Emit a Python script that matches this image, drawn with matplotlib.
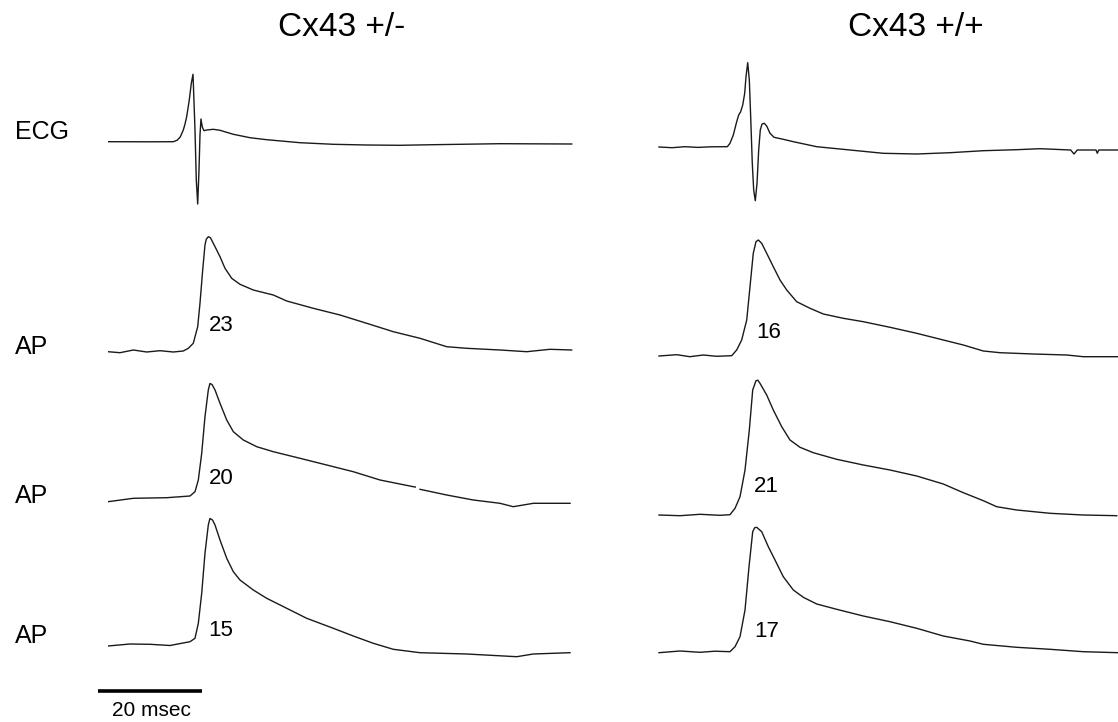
import numpy as np
import matplotlib
matplotlib.use("Agg")
import matplotlib.pyplot as plt

plt.rcParams['font.family'] = ['Liberation Sans', 'DejaVu Sans']

# ---------------- data (time in ms, amplitude in arbitrary units) ----------------
column_titles = ["Cx43 +/-", "Cx43 +/+"]
row_labels = ["ECG", "AP", "AP", "AP"]

# Cx43 +/- ECG
ecg_het_t = [0, 8.1, 12.56, 13.3, 13.85, 14.0, 14.48, 14.8, 15.13, 15.63, 16.02, 16.35, 16.73,
             16.98, 17.25, 17.5, 17.69, 17.88, 18.13, 18.46, 18.98, 20.25, 21.54, 24.1, 27.31,
             30.52, 36.92, 43.33, 49.75, 56.15, 62.56, 75.38, 89.17]
ecg_het_v = [0, -0.1, 0, 1.5, 4.4, 6, 11.7, 17.5, 25, 41.7, 58.4, 67.4, 11.7,
             -38.3, -62.3, -28.3, 6.7, 22.7, 14.7, 11, 11.7, 12.4, 11.4, 7.4, 4,
             2, -1, -2.6, -3.3, -3.6, -3, -2, -2.3]

# Cx43 +/+ ECG
ecg_wt_t = [0, 2.5, 5.0, 7.5, 10.0, 13.14, 13.65, 14.29, 14.94, 15.33, 15.71, 16.1, 16.48,
            16.73, 17.06, 17.37, 17.63, 17.94, 18.21, 18.52, 18.85, 19.17, 19.48, 19.81,
            20.25, 20.71, 21.35, 22.12, 23.9, 25.83, 30.33, 36.73, 43.13, 49.56, 55.96,
            62.37, 68.79, 73.27, 79.17, 79.81, 80.44, 84.04, 84.29, 84.56, 88.33]
ecg_wt_v = [0, -0.7, 0.3, -0.4, 0.2, 0.3, 3.7, 12, 25.3, 32, 35.3, 42, 53.7,
            70.3, 84.3, 67, 30.3, -16.3, -43, -53.7, -36.3, -3, 17, 23,
            23.7, 21, 13.7, 9.7, 7.7, 5.3, 0.3, -3, -6.3, -7, -5.7,
            -3.7, -2.7, -1.7, -3, -7, -3, -3, -6.3, -3, -3]

# Cx43 +/- action potentials
ap_het1_t = [0, 2.31, 4.87, 7.44, 10, 12.56, 14.48, 15.44, 16.4, 17.25, 17.69, 18.21, 18.65,
             18.9, 19.3, 19.7, 20.58, 21.54, 22.5, 23.79, 25.38, 27.94, 31.79, 34.37, 39.48,
             44.62, 49.75, 54.87, 60, 65.13, 68.98, 75.38, 80.52, 85, 89.17]
ap_het1_v = [0, -1, 1.7, -0.3, 1, -0.3, 0.7, 3.4, 8.4, 25, 48.4, 81.7, 106.7,
             112.5, 115, 114, 105, 95, 83.4, 73.4, 67.4, 61.7, 56.7, 50.7, 43.4,
             36.7, 28.4, 20, 13.4, 5, 3.4, 1.7, 0, 2.4, 1.7]

ap_het2_t = [0, 4.87, 11.29, 15.77, 16.73, 17.37, 18.02, 18.65, 19.29, 19.6, 20.0, 20.58,
             21.54, 22.83, 24.1, 26.02, 28.6, 31.79, 36.92, 42.06, 47.17, 52.31, 58.71, 59.1,
             59.5, 60, 65.13, 70.25, 75.38, 77.94, 81.79, 88.85]
ap_het2_v = [-1.7, 1.7, 2.3, 4, 8.3, 20, 46.7, 83.3, 110, 116.5, 115.5, 110,
             96.7, 80, 68.3, 60, 53.3, 48.3, 41.7, 35, 28.3, 20, 13.3, 13,
             np.nan, 10.7, 5, 0, -3.3, -6.7, -3.3, -3.3]

ap_het3_t = [0, 4.23, 8.08, 11.92, 15.77, 16.73, 17.37, 18.02, 18.65, 19.29, 19.6, 20.1,
             20.58, 21.54, 22.83, 24.1, 25.38, 27.94, 30.52, 34.37, 38.21, 43.33, 47.17,
             51.02, 54.87, 60, 68.98, 78.6, 81.79, 88.85]
ap_het3_v = [-1, 1, 0.7, -0.5, 3.3, 6.7, 21.7, 51.7, 91.7, 120, 126.5, 125,
             120, 105, 86.7, 73.3, 65, 55, 46.7, 36.7, 26.7, 16.7, 9,
             1.7, -4.3, -7.7, -9, -11.7, -9, -7.7]

# Cx43 +/+ action potentials
ap_wt1_t = [0, 3.4, 5.96, 8.52, 11.1, 13.98, 14.94, 15.9, 16.87, 17.5, 18.13, 18.65, 19.1,
            19.75, 20.71, 21.98, 23.27, 24.56, 26.48, 29.04, 31.6, 35.44, 39.29, 44.42,
            49.56, 54.67, 58.52, 62.37, 65.58, 71.98, 78.4, 81.6, 88.33]
ap_wt1_v = [0, 1.3, -0.7, 1, -0.3, 0.3, 6, 16, 36, 69.3, 102.7, 114.3, 116,
            112.7, 102.7, 89.3, 76, 66, 54.3, 47.7, 42, 37.7, 34.3, 28.7,
            22.7, 16, 11, 5, 3.3, 2, 1, -0.7, -0.7]

ap_wt2_t = [0, 4.04, 7.88, 11.73, 13.65, 14.62, 15.58, 16.54, 17.37, 18.02, 18.65, 19.0, 19.42,
            20.71, 21.98, 23.6, 25.19, 27.12, 29.67, 34.17, 39.29, 44.42, 49.56, 54.67,
            58.52, 62.37, 64.94, 68.79, 75.19, 81.6, 88.02]
ap_wt2_v = [0, -0.7, 0.7, -0.3, 0.3, 6.7, 18.3, 45, 85, 125, 134.3, 134.8, 131.7,
            120, 105, 88.3, 75, 67.7, 62.3, 55.7, 50, 45, 39, 31,
            22.3, 14.3, 8.3, 5, 1.7, 0, -0.7]

ap_wt3_t = [0, 4.04, 7.88, 10.77, 13.65, 14.62, 15.58, 16.54, 17.31, 18.02, 18.4, 18.79, 19.75,
            21.02, 22.31, 23.9, 25.83, 27.75, 30.33, 34.17, 39.29, 44.42, 49.56, 54.67,
            59.81, 62.37, 68.79, 75.19, 81.6, 88.33]
ap_wt3_v = [-1, 0.7, -0.6, 0.5, 0, 5, 15, 41.7, 85, 120, 124.0, 124.4, 120,
            105, 91.7, 75, 61.7, 54.4, 47.7, 42.4, 35.7, 30, 23.4, 15.7,
            10.7, 7.4, 4.4, 2.4, 0, -1]

# APD numbers written beside the upstrokes: (value, time ms, amplitude)
apd_het = [23, 20, 15]
apd_het_pos = [(21.7, 26.7), (21.73, 22.0), (21.73, 14.5)]
apd_wt = [16, 21, 17]
apd_wt_pos = [(21.15, 23.5), (20.58, 28.5), (20.77, 20.2)]

scale_bar_ms = 20

# ---------------- layout ----------------
W, H = 1118, 722
DPI = 100
PX_PER_MS = 5.2
fig = plt.figure(figsize=(W / DPI, H / DPI), dpi=DPI)
fig.patch.set_facecolor('white')

LO, HI = 90, 150          # amplitude range per axes (1 unit = 1 px)
XMAX = 92                 # ms


def trace_axes(x0_px, base_px):
    left = x0_px / W
    bottom = (H - base_px - LO) / H
    ax = fig.add_axes([left, bottom, XMAX * PX_PER_MS / W, (LO + HI) / H])
    ax.set_xlim(0, XMAX)
    ax.set_ylim(-LO, HI)
    ax.axis('off')
    ax.patch.set_alpha(0)
    return ax


col_x0 = [108, 659]
het_rows = [(ecg_het_t, ecg_het_v, 141.7), (ap_het1_t, ap_het1_v, 351.7),
            (ap_het2_t, ap_het2_v, 500), (ap_het3_t, ap_het3_v, 645)]
wt_rows = [(ecg_wt_t, ecg_wt_v, 147), (ap_wt1_t, ap_wt1_v, 356),
           (ap_wt2_t, ap_wt2_v, 515), (ap_wt3_t, ap_wt3_v, 651.7)]

line_kw = dict(color='#1a1a1a', lw=1.0, solid_joinstyle='round')
num_kw = dict(fontsize=16, ha='center', va='center', color='black')

axes_het, axes_wt = [], []
for (t, v, b) in het_rows:
    ax = trace_axes(col_x0[0], b)
    ax.plot(t, v, **line_kw)
    axes_het.append(ax)
for (t, v, b) in wt_rows:
    ax = trace_axes(col_x0[1], b)
    ax.plot(t, v, clip_on=False, **line_kw)
    axes_wt.append(ax)

for ax, n, (tt, aa) in zip(axes_het[1:], apd_het, apd_het_pos):
    ax.text(tt, aa, str(n), **num_kw)
for ax, n, (tt, aa) in zip(axes_wt[1:], apd_wt, apd_wt_pos):
    ax.text(tt, aa, str(n), **num_kw)

# scale bar (drawn in data units of the bottom-left trace)
sb_ax = axes_het[-1]
sb_t0 = -1.9
sb_y = -46
sb_ax.plot([sb_t0, sb_t0 + scale_bar_ms], [sb_y, sb_y], color='black', lw=2.6,
           solid_capstyle='butt', clip_on=False)
sb_ax.text(sb_t0 + scale_bar_ms / 2 + 0.3, sb_y - 19, f"{scale_bar_ms} msec",
           fontsize=15, ha='center', va='center', clip_on=False)

# column titles
fig.text(342 / W, 1 - 27 / H, column_titles[0], fontsize=24, ha='center', va='center')
fig.text(916 / W, 1 - 27 / H, column_titles[1], fontsize=24, ha='center', va='center')

# row labels
row_y = [132, 347, 496, 636]
for lab, y in zip(row_labels, row_y):
    fig.text(15 / W, 1 - y / H, lab, fontsize=18, ha='left', va='center')

fig.savefig('out.png', dpi=DPI, facecolor='white')
